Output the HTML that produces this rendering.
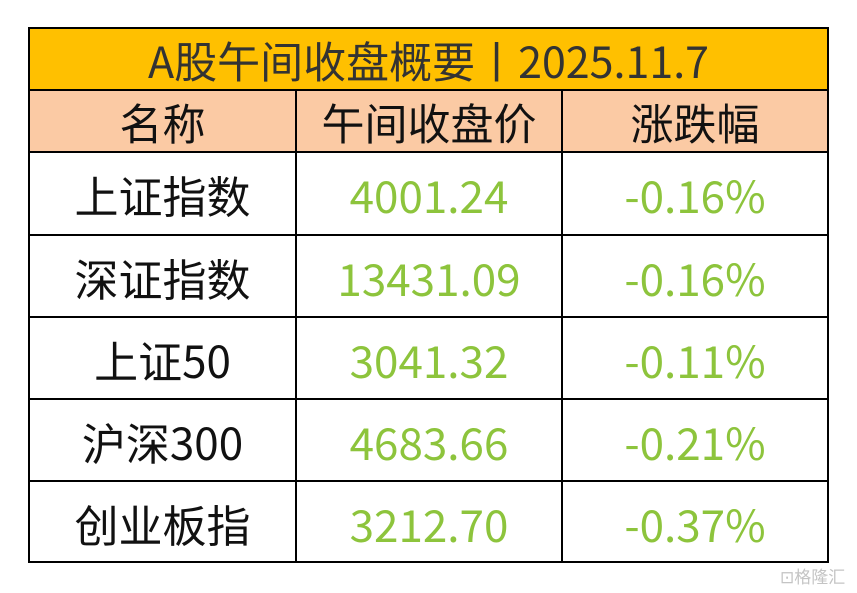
<!DOCTYPE html>
<html><head><meta charset="utf-8"><style>
body{margin:0;width:857px;height:593px;background:#fff;position:relative;overflow:hidden;font-family:"Noto Sans CJK SC","Liberation Sans",sans-serif}
.c{position:absolute;display:flex;align-items:center;justify-content:center;box-sizing:border-box;padding-top:1px}
.h{position:absolute;background:#000}
.g{color:#8dc43c;font-size:44px;font-family:"Noto Sans CJK SC","Liberation Sans",sans-serif}
.n{color:#111;font-size:44px;font-family:"Noto Sans CJK SC",sans-serif}
</style></head><body>
<div class="c" style="left:29px;top:28px;width:799px;height:62px;background:#ffc000;font-size:43px;color:#333">A股午间收盘概要丨2025.11.7</div>
<div style="position:absolute;left:29px;top:90px;width:799px;height:62px;background:#fbcaa4"></div>
<div class="c n" style="left:29px;top:90px;width:267px;height:62px;font-size:43px">名称</div>
<div class="c n" style="left:296px;top:90px;width:266px;height:62px;font-size:43px">午间收盘价</div>
<div class="c n" style="left:562px;top:90px;width:266px;height:62px;font-size:43px">涨跌幅</div>

<div class="c n" style="left:29px;top:152px;width:267px;height:83px">上证指数</div>
<div class="c g" style="left:296px;top:152px;width:266px;height:83px">4001.24</div>
<div class="c g" style="left:562px;top:152px;width:266px;height:83px">-0.16%</div>
<div class="c n" style="left:29px;top:235px;width:267px;height:82px">深证指数</div>
<div class="c g" style="left:296px;top:235px;width:266px;height:82px">13431.09</div>
<div class="c g" style="left:562px;top:235px;width:266px;height:82px">-0.16%</div>
<div class="c n" style="left:29px;top:317px;width:267px;height:82px">上证50</div>
<div class="c g" style="left:296px;top:317px;width:266px;height:82px">3041.32</div>
<div class="c g" style="left:562px;top:317px;width:266px;height:82px">-0.11%</div>
<div class="c n" style="left:29px;top:399px;width:267px;height:82px">沪深300</div>
<div class="c g" style="left:296px;top:399px;width:266px;height:82px">4683.66</div>
<div class="c g" style="left:562px;top:399px;width:266px;height:82px">-0.21%</div>
<div class="c n" style="left:29px;top:481px;width:267px;height:82px">创业板指</div>
<div class="c g" style="left:296px;top:481px;width:266px;height:82px">3212.70</div>
<div class="c g" style="left:562px;top:481px;width:266px;height:82px">-0.37%</div>

<div class="h" style="left:28px;top:27px;width:801px;height:2px"></div>
<div class="h" style="left:28px;top:89px;width:801px;height:2px"></div>
<div class="h" style="left:28px;top:151px;width:801px;height:2px"></div>
<div class="h" style="left:28px;top:234px;width:801px;height:2px"></div>
<div class="h" style="left:28px;top:316px;width:801px;height:2px"></div>
<div class="h" style="left:28px;top:398px;width:801px;height:2px"></div>
<div class="h" style="left:28px;top:480px;width:801px;height:2px"></div>
<div class="h" style="left:28px;top:561px;width:801px;height:2px"></div>
<div class="h" style="left:28px;top:27px;width:2px;height:536px"></div>
<div class="h" style="left:827px;top:27px;width:2px;height:536px"></div>
<div class="h" style="left:295px;top:90px;width:2px;height:472px"></div>
<div class="h" style="left:561px;top:90px;width:2px;height:472px"></div>
<div style="position:absolute;left:780px;top:563px;font-size:17px;color:#c4c4c4">⊡格隆汇</div>
</body></html>
